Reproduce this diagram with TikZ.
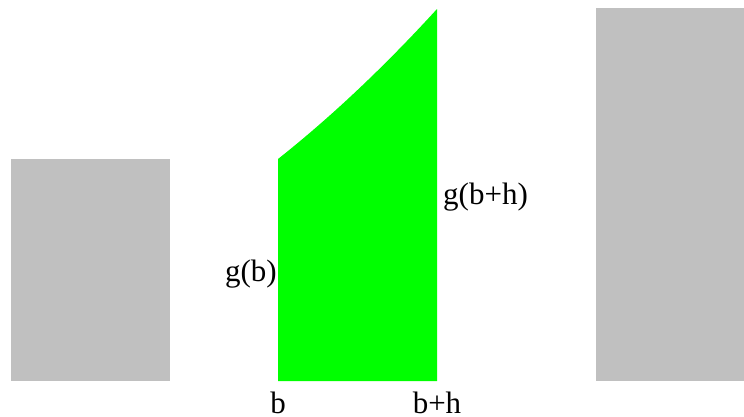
\documentclass[tikz,border=0pt]{standalone}
\usepackage{fontspec}
\setmainfont{Liberation Serif}
\usepackage{amsmath}
\definecolor{barfill}{HTML}{C0C0C0}
\definecolor{areafill}{HTML}{00FF00}
\tikzset{lbl/.style={inner sep=0pt,font=\fontsize{31}{36}\selectfont}}

\begin{document}
\begin{tikzpicture}[x=1pt,y=-1pt]
\useasboundingbox (0,0) rectangle (744,416);
\fill[barfill] (11,159) rectangle (170,381);
\fill[barfill] (596,8) rectangle (744,381);
\fill[areafill] (278,381) -- (278,159) .. controls (331,117) and (384,67) .. (437,9) -- (437,381) -- cycle;
\node[lbl,anchor=base east] (gb) at (277,281) {g(b)};
\node[lbl,anchor=base west] (gbh) at (443,204) {g(b+h)};
\node[lbl,anchor=base] (b) at (278,413) {b};
\node[lbl,anchor=base] (bh) at (437,413) {b+h};
\end{tikzpicture}
\end{document}
